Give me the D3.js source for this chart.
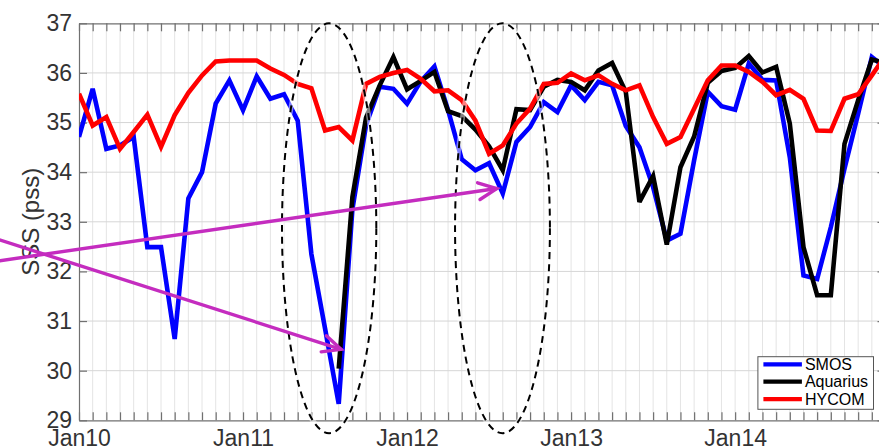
<!DOCTYPE html>
<html>
<head>
<meta charset="utf-8">
<script src="https://cdn.jsdelivr.net/npm/d3@7"></script>
<style>
  html, body { margin: 0; padding: 0; background: #fff; }
  svg { display: block; font-family: "Liberation Sans", Arial, Helvetica, sans-serif; }
</style>
</head>
<body>
<svg id="chart" width="879" height="447"></svg>
<script>
// ---------------- DATA ----------------
const months = [
  "2010-01","2010-02","2010-03","2010-04","2010-05","2010-06","2010-07","2010-08","2010-09","2010-10","2010-11","2010-12",
  "2011-01","2011-02","2011-03","2011-04","2011-05","2011-06","2011-07","2011-08","2011-09","2011-10","2011-11","2011-12",
  "2012-01","2012-02","2012-03","2012-04","2012-05","2012-06","2012-07","2012-08","2012-09","2012-10","2012-11","2012-12",
  "2013-01","2013-02","2013-03","2013-04","2013-05","2013-06","2013-07","2013-08","2013-09","2013-10","2013-11","2013-12",
  "2014-01","2014-02","2014-03","2014-04","2014-05","2014-06","2014-07","2014-08","2014-09","2014-10","2014-11","2014-12"
];

const smos = [
  34.71, 35.68, 34.47, 34.54, 34.71, 32.49, 32.49, 30.64, 33.47, 34.00,
  35.38, 35.85, 35.25, 35.93, 35.48, 35.57, 35.04, 32.35, 30.85, 29.33,
  33.25, 34.95, 35.72, 35.68, 35.38, 35.83, 36.13, 35.25, 34.26, 34.04,
  34.18, 33.57, 34.61, 34.91, 35.41, 35.21, 35.75, 35.45, 35.82, 35.75,
  34.93, 34.50, 33.70, 32.62, 32.76, 34.24, 35.62, 35.33, 35.26, 36.19,
  35.86, 35.85, 34.30, 31.92, 31.85, 32.89, 34.07, 35.18, 36.32, 36.10
];

const aquarius = [
  null, null, null, null, null, null, null, null, null, null,
  null, null, null, null, null, null, null, null, null, 30.04,
  33.50, 35.10, 35.75, 36.32, 35.67, 35.84, 36.02, 35.23, 35.13, 34.86,
  34.52, 34.04, 35.27, 35.25, 35.72, 35.86, 35.82, 35.65, 36.05, 36.20,
  35.62, 33.40, 33.92, 32.54, 34.10, 34.72, 35.80, 36.04, 36.10, 36.34,
  36.01, 36.12, 34.98, 32.49, 31.52, 31.52, 34.57, 35.45, 36.27, 36.20
];

const hycom = [
  35.58, 34.94, 35.11, 34.47, 34.81, 35.16, 34.51, 35.15, 35.60, 35.95,
  36.23, 36.25, 36.25, 36.25, 36.09, 35.96, 35.78, 35.69, 34.84, 34.91,
  34.64, 35.78, 35.92, 36.00, 36.06, 35.88, 35.63, 35.65, 35.45, 35.04,
  34.37, 34.54, 34.98, 35.28, 35.78, 35.80, 35.99, 35.85, 35.95, 35.78,
  35.65, 35.75, 35.11, 34.57, 34.71, 35.28, 35.85, 36.15, 36.15, 36.02,
  35.82, 35.55, 35.66, 35.48, 34.84, 34.83, 35.48, 35.57, 35.95, 36.35
];

const seriesNames  = ["SMOS", "Aquarius", "HYCOM"];
const seriesColors = ["#0000ff", "#000000", "#ff0000"];
const yTicks = [29, 30, 31, 32, 33, 34, 35, 36, 37];
const xTickMonths = ["2010-01", "2011-01", "2012-01", "2013-01", "2014-01"];
const xTickLabels = ["Jan10", "Jan11", "Jan12", "Jan13", "Jan14"];
const yLabel = "SSS (pss)";

// annotations, in data units (month index, pss)
const ellipses = [
  { cx: 18.3, cy: 32.87, rx: 3.45, ry: 4.13 },
  { cx: 30.98, cy: 32.87, rx: 3.47, ry: 4.13 }
];
const arrows = [
  { from: [-8.7, 32.89], to: [19.17, 30.43] },
  { from: [-8.7, 32.10], to: [30.56, 33.67] }
];

// ---------------- CHART ----------------
const svg = d3.select("#chart");
const L = 79, R = 885.5, T = 23.3, B = 420.3;

const x = d3.scaleLinear().domain([0, months.length - 1]).range([L, R]);
const y = d3.scaleLinear().domain([29, 37]).range([B, T]);
const monthIdx = m => months.indexOf(m);

svg.append("rect").attr("width", 879).attr("height", 447).attr("fill", "#fff");

svg.append("defs").append("clipPath").attr("id", "plotclip")
  .append("rect").attr("x", L).attr("y", T).attr("width", R - L).attr("height", B - T);

// grid
const grid = svg.append("g");
grid.selectAll("line.vg").data(months.slice(1, -1)).join("line")
  .attr("x1", d => x(monthIdx(d))).attr("x2", d => x(monthIdx(d)))
  .attr("y1", T).attr("y2", B)
  .attr("stroke", "#e4e4e4").attr("stroke-width", 1);
grid.selectAll("line.hg").data(yTicks.slice(1, -1)).join("line")
  .attr("x1", L).attr("x2", R)
  .attr("y1", d => y(d)).attr("y2", d => y(d))
  .attr("stroke", "#d6d6d6").attr("stroke-width", 1);

// axes
const axisColor = "#707070";
const idxAll = months.map((m, i) => i);
const labelFor = i => { const k = xTickMonths.indexOf(months[i]); return k >= 0 ? xTickLabels[k] : ""; };

const gB = svg.append("g").attr("transform", `translate(0,${B})`)
  .call(d3.axisBottom(x).tickValues(idxAll).tickFormat(labelFor).tickSizeInner(-8).tickSizeOuter(0).tickPadding(9));
const gT = svg.append("g").attr("transform", `translate(0,${T})`)
  .call(d3.axisTop(x).tickValues(idxAll).tickFormat("").tickSizeInner(-8).tickSizeOuter(0));
const gL = svg.append("g").attr("transform", `translate(${L},0)`)
  .call(d3.axisLeft(y).tickValues(yTicks).tickFormat(d3.format("d")).tickSizeInner(-8).tickSizeOuter(0).tickPadding(7));
const gR = svg.append("g").attr("transform", `translate(${R},0)`)
  .call(d3.axisRight(y).tickValues(yTicks).tickFormat("").tickSizeInner(-8).tickSizeOuter(0));

[gB, gT, gL, gR].forEach(g => {
  g.select(".domain").attr("stroke", axisColor).attr("stroke-width", 1.2);
  g.selectAll(".tick line").attr("stroke", axisColor).attr("stroke-width", 1.2);
  g.selectAll(".tick text").attr("fill", "#333").attr("font-size", 23)
    .attr("font-family", "'Liberation Sans', Arial, Helvetica, sans-serif");
});

// y label
svg.append("text")
  .attr("transform", `translate(39,${(T + B) / 2}) rotate(-90)`)
  .attr("text-anchor", "middle")
  .attr("font-size", 24).attr("fill", "#333")
  .text(yLabel);

// lines
const seriesData = [smos, aquarius, hycom];
const line = d3.line()
  .defined(d => d != null)
  .x((d, i) => x(i))
  .y(d => y(d));

const gLines = svg.append("g").attr("clip-path", "url(#plotclip)");
seriesData.forEach((s, k) => {
  gLines.append("path")
    .datum(s)
    .attr("d", line)
    .attr("fill", "none")
    .attr("stroke", seriesColors[k])
    .attr("stroke-width", 4.6)
    .attr("stroke-linejoin", "miter")
    .attr("stroke-miterlimit", 3);
});

// dashed ellipses
ellipses.forEach(e => {
  const cx = x(e.cx), cy = y(e.cy);
  const rx = x(e.cx + e.rx) - cx, ry = cy - y(e.cy + e.ry);
  svg.append("ellipse")
    .attr("cx", cx).attr("cy", cy).attr("rx", rx).attr("ry", ry)
    .attr("fill", "none").attr("stroke", "#fff").attr("stroke-width", 5).attr("stroke-opacity", 0.5);
  svg.append("ellipse")
    .attr("cx", cx).attr("cy", cy).attr("rx", rx).attr("ry", ry)
    .attr("fill", "none").attr("stroke", "#000").attr("stroke-width", 2)
    .attr("stroke-dasharray", "7,5");
});

// legend
const legW = 115.6, legH = 52.6;
const legX = R - 12 - legW, legY = B - 11 - legH;
const leg = svg.append("g").attr("transform", `translate(${legX},${legY})`);
leg.append("rect").attr("width", legW).attr("height", legH)
  .attr("fill", "#fff").attr("stroke", "#555").attr("stroke-width", 1);
seriesNames.forEach((name, k) => {
  const ly = 7.6 + k * 17.4;
  leg.append("line").attr("x1", 5.5).attr("x2", 44).attr("y1", ly).attr("y2", ly)
    .attr("stroke", seriesColors[k]).attr("stroke-width", 4.2);
  leg.append("text").attr("x", 47).attr("y", ly).attr("dy", "0.35em")
    .attr("font-size", 16).attr("fill", "#000").text(name);
});

// magenta arrows
const arrowColor = "#c42cbf";
arrows.forEach(a => {
  const x0 = x(a.from[0]), y0 = y(a.from[1]);
  const x1 = x(a.to[0]), y1 = y(a.to[1]);
  svg.append("line").attr("x1", x0).attr("y1", y0).attr("x2", x1).attr("y2", y1)
    .attr("stroke", arrowColor).attr("stroke-width", 3.4).attr("stroke-linecap", "round");
  const ang = Math.atan2(y0 - y1, x0 - x1);
  const len = 20, spread = 25 * Math.PI / 180;
  const p1 = [x1 + len * Math.cos(ang + spread), y1 + len * Math.sin(ang + spread)];
  const p2 = [x1 + len * Math.cos(ang - spread), y1 + len * Math.sin(ang - spread)];
  svg.append("path")
    .attr("d", `M${p1[0]},${p1[1]}L${x1},${y1}L${p2[0]},${p2[1]}`)
    .attr("fill", "none").attr("stroke", arrowColor).attr("stroke-width", 3.4)
    .attr("stroke-linecap", "round").attr("stroke-linejoin", "miter");
});
</script>
</body>
</html>
